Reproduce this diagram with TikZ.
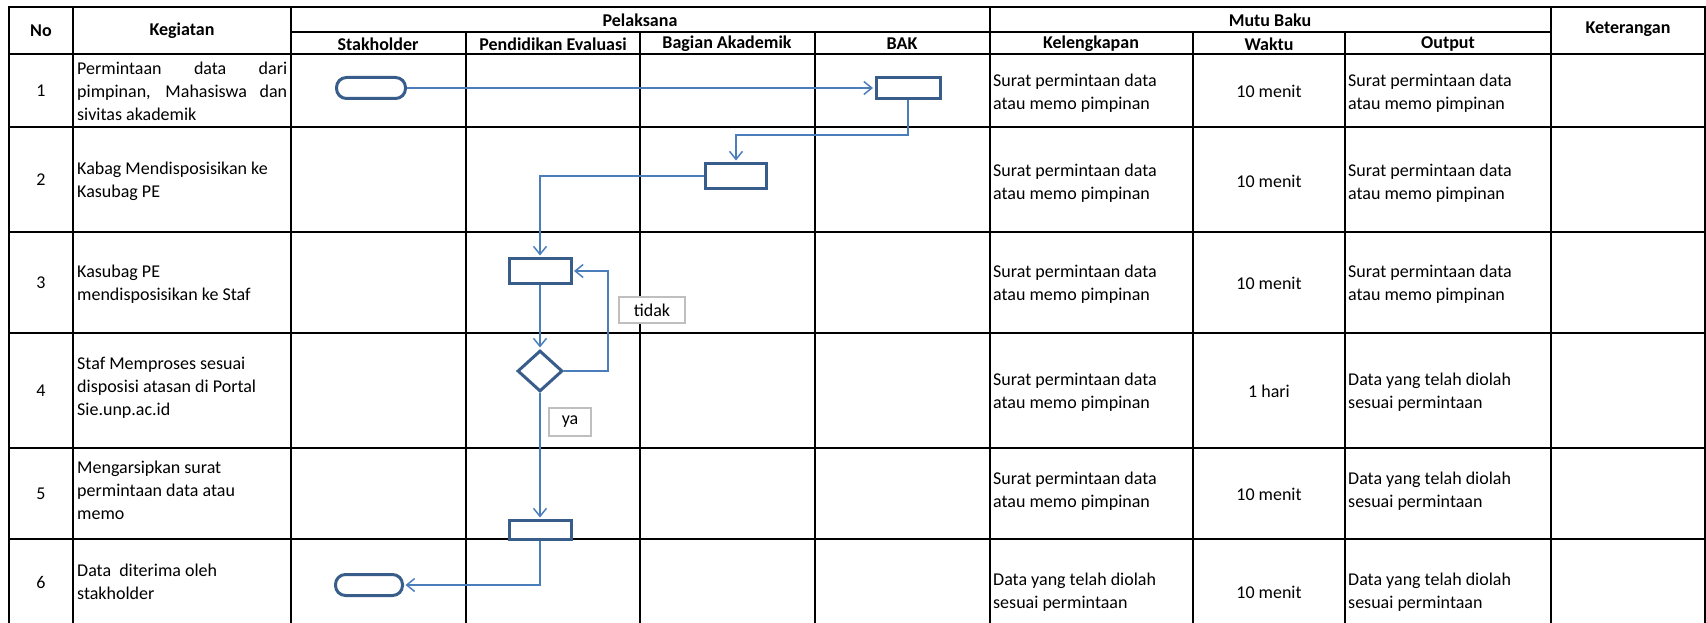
\documentclass[tikz,border=0pt]{standalone}
\usepackage{fontspec}
\setmainfont{Carlito}
\usetikzlibrary{arrows.meta,shapes.geometric,calc}
\definecolor{shapeblue}{HTML}{385D8A}
\definecolor{connblue}{HTML}{4A7EBB}
\definecolor{lblgray}{HTML}{BFBFBF}
\begin{document}
\begin{tikzpicture}[x=1pt,y=-1pt,
  font=\fontsize{18}{23}\selectfont,
  grid/.style={line width=2pt,black,line cap=rect},
  hd/.style={inner sep=0pt,font=\fontsize{18}{23}\selectfont\bfseries},
  txt/.style={anchor=west,align=left,inner sep=0pt},
  ctr/.style={inner sep=0pt},
  proc/.style={draw=shapeblue,line width=3pt,fill=white,inner sep=0pt},
  term/.style={proc,rounded corners=10pt},
  dec/.style={diamond,draw=shapeblue,line width=3pt,fill=white,inner sep=0pt,minimum width=45pt,minimum height=41pt},
  conn/.style={draw=connblue,line width=1.5pt,-{Straight Barb[length=8pt,width=13pt]},shorten >=1.5pt},
  lbl/.style={draw=lblgray,line width=1.5pt,fill=white,inner sep=0pt}
]
\useasboundingbox (0,0) rectangle (1706,623);
\fill[white] (0,0) rectangle (1706,623);

% table grid
\draw[grid] (9,7) -- (1706,7);
\draw[grid] (291,32) -- (1551,32);
\foreach \yy in {54,127,232,333,448,539} {\draw[grid] (9,\yy) -- (1706,\yy);}
\foreach \xx in {9,73,291,990,1551,1705} {\draw[grid] (\xx,7) -- (\xx,623);}
\foreach \xx in {466,640,815,1193,1345} {\draw[grid] (\xx,32) -- (\xx,623);}

% headers
\node[hd] (hno) at (41,31) {No};
\node[hd] (hkeg) at (182,31) {Kegiatan};
\node[hd] (hpel) at (640,20) {Pelaksana};
\node[hd] (hsta) at (378,44) {Stakholder};
\node[hd] (hpe) at (553,44) {Pendidikan Evaluasi};
\node[hd] (hba) at (727,44) {Bagian Akademik};
\node[hd] (hbak) at (902,44) {BAK};
\node[hd] (hmut) at (1270,20) {Mutu Baku};
\node[hd] (hkel) at (1091,44) {Kelengkapan};
\node[hd] (hwak) at (1269,44) {Waktu};
\node[hd] (hout) at (1448,44) {Output};
\node[hd] (hket) at (1628,29) {Keterangan};

% numbers
\node[ctr] (n1) at (41,91) {1};
\node[ctr] (n2) at (41,180) {2};
\node[ctr] (n3) at (41,283) {3};
\node[ctr] (n4) at (41,391) {4};
\node[ctr] (n5) at (41,494) {5};
\node[ctr] (n6) at (41,582) {6};

% kegiatan
\node[txt] (k1) at (77,91) {\makebox[210pt][s]{Permintaan data dari}\\\makebox[210pt][s]{pimpinan, Mahasiswa dan}\\sivitas akademik};
\node[txt] (k2) at (77,181) {Kabag Mendisposisikan ke\\Kasubag PE};
\node[txt] (k3) at (77,284) {Kasubag PE\\mendisposisikan ke Staf};
\node[txt] (k4) at (77,388) {Staf Memproses sesuai\\disposisi atasan di Portal\\Sie.unp.ac.id};
\node[txt] (k5) at (77,490) {Mengarsipkan surat\\permintaan data atau\\memo};
\node[txt] (k6) at (77,582) {Data~ diterima oleh\\stakholder};

% kelengkapan
\node[txt] (l1) at (993,93) {Surat permintaan data\\atau memo pimpinan};
\node[txt] (l2) at (993,183) {Surat permintaan data\\atau memo pimpinan};
\node[txt] (l3) at (993,284) {Surat permintaan data\\atau memo pimpinan};
\node[txt] (l4) at (993,392) {Surat permintaan data\\atau memo pimpinan};
\node[txt] (l5) at (993,491) {Surat permintaan data\\atau memo pimpinan};
\node[txt] (l6) at (993,592) {Data yang telah diolah\\sesuai permintaan};

% waktu
\node[ctr] (w1) at (1269,91) {10 menit};
\node[ctr] (w2) at (1269,181) {10 menit};
\node[ctr] (w3) at (1269,283) {10 menit};
\node[ctr] (w4) at (1269,391) {1 hari};
\node[ctr] (w5) at (1269,494) {10 menit};
\node[ctr] (w6) at (1269,592) {10 menit};

% output
\node[txt] (o1) at (1348,93) {Surat permintaan data\\atau memo pimpinan};
\node[txt] (o2) at (1348,183) {Surat permintaan data\\atau memo pimpinan};
\node[txt] (o3) at (1348,284) {Surat permintaan data\\atau memo pimpinan};
\node[txt] (o4) at (1348,392) {Data yang telah diolah\\sesuai permintaan};
\node[txt] (o5) at (1348,491) {Data yang telah diolah\\sesuai permintaan};
\node[txt] (o6) at (1348,592) {Data yang telah diolah\\sesuai permintaan};

% flow shapes
\node[term,minimum width=69pt,minimum height=21pt] (t1) at (371,88) {};
\node[proc,minimum width=64pt,minimum height=21pt] (bak1) at (908,88) {};
\node[proc,minimum width=61pt,minimum height=25pt] (bag2) at (736,176) {};
\node[proc,minimum width=62pt,minimum height=25pt] (pe3) at (540,271) {};
\node[dec] (d4) at (540,371) {};
\node[proc,minimum width=62pt,minimum height=19pt] (pe5) at (540,530) {};
\node[term,minimum width=67pt,minimum height=21pt] (t6) at (369,585) {};

% connectors
\draw[conn] (t1.east) -- (bak1.west);
\draw[conn] (bak1.south) -- ++(0,35) -| (bag2.north);
\draw[conn] (bag2.west) -| (pe3.north);
\draw[conn] (pe3.south) -- (d4.north);
\draw[conn] (d4.east) -- ++(44,0) |- (pe3.east);
\draw[conn] (d4.south) -- (pe5.north);
\draw[conn] (pe5.south) |- (t6.east);

% labels
\node[lbl,minimum width=66pt,minimum height=26pt] (ltidak) at (652,310) {tidak};
\node[lbl,minimum width=42pt,minimum height=28pt] (lya) at (570,422) {ya};
\end{tikzpicture}
\end{document}
